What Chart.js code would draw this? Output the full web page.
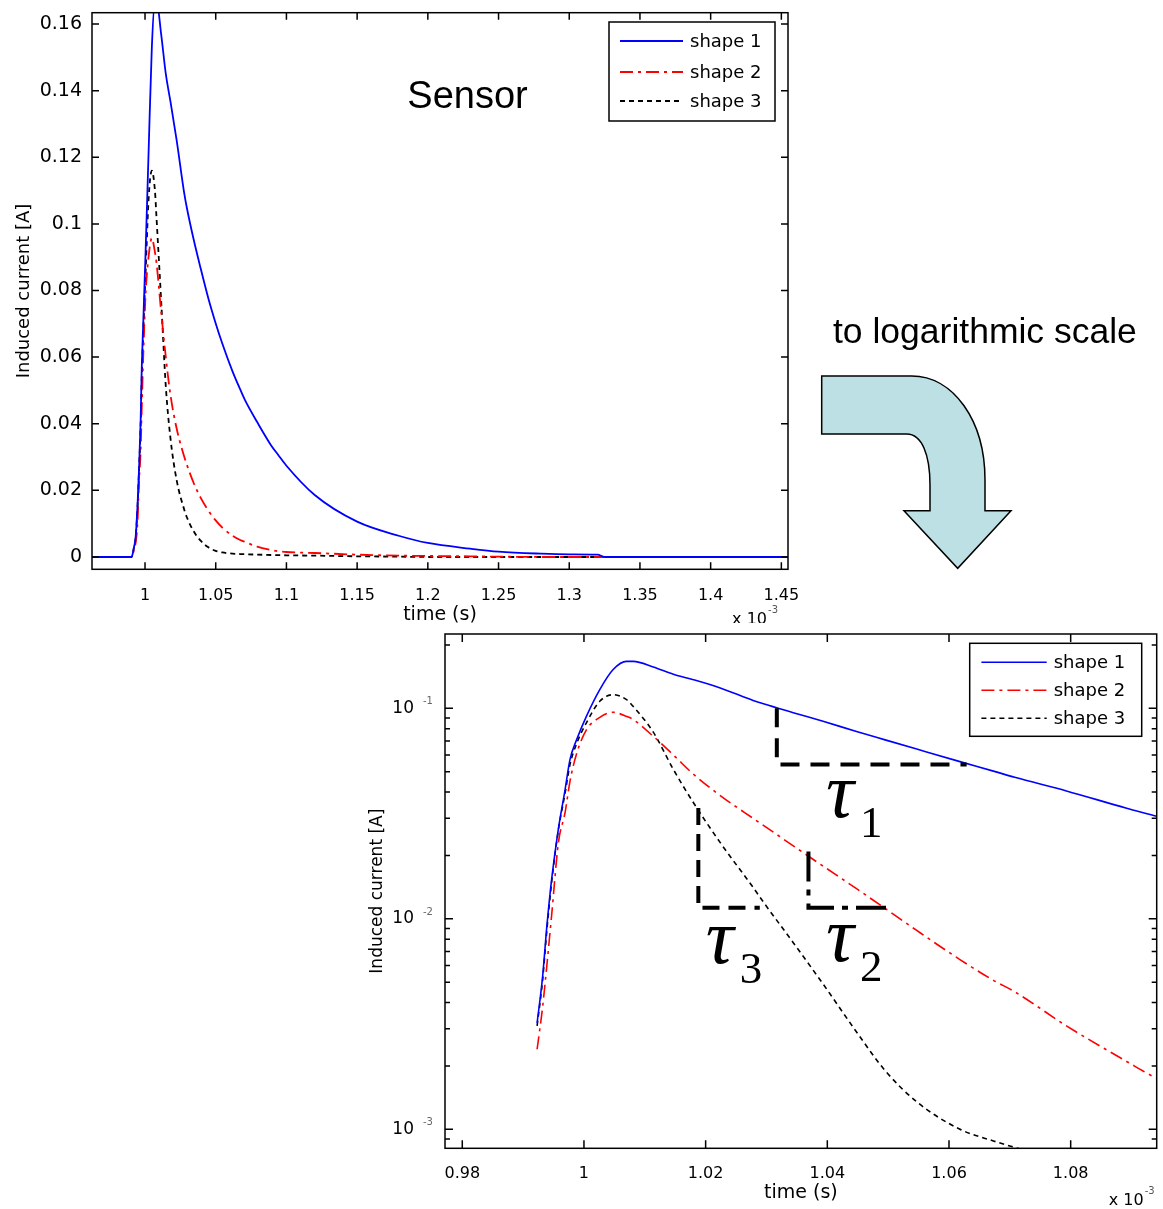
<!DOCTYPE html>
<html>
<head>
<meta charset="utf-8">
<script src="https://cdn.jsdelivr.net/npm/chart.js@4.4.0/dist/chart.umd.min.js"></script>
<style>
  html, body { margin: 0; padding: 0; background: #fff; }
  body { width: 1163px; height: 1209px; position: relative; overflow: hidden; }
  canvas { display: block; }
  #topWrap { position: absolute; left: 0; top: 0; width: 800px; height: 623px; overflow: hidden; }
  #botWrap { position: absolute; left: 360px; top: 630px; width: 803px; height: 579px; }
  #deco { position: absolute; left: 0; top: 0; pointer-events: none; }
</style>
</head>
<body>
<div id="topWrap"><canvas id="c1" width="800" height="640"></canvas></div>
<div id="botWrap"><canvas id="c2" width="803" height="579"></canvas></div>
<svg id="deco" width="1163" height="1209" xmlns="http://www.w3.org/2000/svg">
  <text x="833" y="343" font-family="Liberation Sans, Arial, sans-serif" font-size="35.5" fill="#000">to logarithmic scale</text>
  <path d="M 821.7 376 L 911.7 376 C 953 376 985 420 985 480 L 985 510.7 L 1011 510.7 L 957.7 568.3 L 904 510.7 L 930 510.7 L 930 485 C 930 455 922 434 906.7 434 L 821.7 434 Z"
        fill="#bde0e4" stroke="#000" stroke-width="1.5" stroke-linejoin="miter"/>
</svg>
<script>
// ---------- data (time in units of 1e-3 s) ----------
const time = [0.9625, 0.9800, 0.9905, 0.9923, 0.9932, 0.9939, 0.9947, 0.9958, 0.9969, 0.9977,
              0.9988, 1.0004, 1.0026, 1.0048, 1.0070, 1.0081, 1.0114, 1.0147, 1.0180, 1.0224,
              1.0278, 1.0295, 1.0344, 1.0393, 1.0448, 1.0495, 1.0547, 1.0618, 1.0673, 1.0708,
              1.0793, 1.0892, 1.0941, 1.1000, 1.1200, 1.1500, 1.1800, 1.2000, 1.2300, 1.2500,
              1.2800, 1.3000, 1.3200, 1.3250, 1.3500, 1.4000, 1.4547];
const shape1 = [0, 0, 0, 0.0032, 0.0053, 0.0092, 0.0155, 0.0268, 0.0411, 0.0570,
                0.0710, 0.0916, 0.1227, 0.1528, 0.1670, 0.1670, 0.1570, 0.1450, 0.1367, 0.1250,
                0.1090, 0.1050, 0.0953, 0.0867, 0.0776, 0.0708, 0.0640, 0.0558, 0.0503, 0.0470,
                0.0405, 0.0335, 0.0307, 0.0274, 0.0186, 0.0106, 0.0063, 0.0042, 0.0025, 0.0016,
                0.0010, 0.0008, 0.0007, 0, 0, 0, 0];
const shape2 = [0, 0, 0, 0.0024, 0.0038, 0.0060, 0.0105, 0.0230, 0.0320, 0.0450,
                0.0610, 0.0790, 0.0905, 0.0957, 0.0915, 0.0884, 0.0736, 0.0600, 0.0486, 0.0385,
                0.0300, 0.0278, 0.0222, 0.0178, 0.0139, 0.0112, 0.0088, 0.0064, 0.0051, 0.0045,
                0.0031, 0.0021, 0.00175, 0.0015, 0.0012, 0.0007, 0.0004, 0.0003, 0.0002, 0.0001,
                0, 0, 0, 0, 0, 0, 0];
const shape3 = [0, 0, 0, 0.0031, 0.0051, 0.0088, 0.0150, 0.0265, 0.0395, 0.0540,
                0.0680, 0.0853, 0.1080, 0.1160, 0.1100, 0.1020, 0.0770, 0.0512, 0.0356, 0.0230,
                0.0141, 0.0120, 0.0077, 0.0049, 0.0029, 0.0019, 0.00135, 0.0010, 0.00088, 0.00082,
                0.0007, 0.0006, 0.00055, 0.0005, 0.0004, 0.0002, 0.0001, 0, 0, 0,
                0, 0, 0, 0, 0, 0, 0];
const seriesNames = ['shape 1', 'shape 2', 'shape 3'];

// tick values and labels
const xTicksTop = [1, 1.05, 1.1, 1.15, 1.2, 1.25, 1.3, 1.35, 1.4, 1.45];
const xTickLabelsTop = ['1', '1.05', '1.1', '1.15', '1.2', '1.25', '1.3', '1.35', '1.4', '1.45'];
const yTicksTop = [0, 0.02, 0.04, 0.06, 0.08, 0.1, 0.12, 0.14, 0.16];
const yTickLabelsTop = ['0', '0.02', '0.04', '0.06', '0.08', '0.1', '0.12', '0.14', '0.16'];
const xTicksBot = [0.98, 1, 1.02, 1.04, 1.06, 1.08];
const xTickLabelsBot = ['0.98', '1', '1.02', '1.04', '1.06', '1.08'];
const yTicksBot = [0.001, 0.01, 0.1];
const yTickLabelsBot = ['10', '10', '10'];
const yTickExpBot = ['-3', '-2', '-1'];
const axisMultiplier = ['x 10', '-3'];

// annotations (data coordinates of the log chart)
const tauPaths = [
  { pts: [[1.0317, 0.1], [1.0317, 0.054], [1.0629, 0.054]], dash: [19, 11] },
  { pts: [[1.0369, 0.0209], [1.0369, 0.01127], [1.0498, 0.01127]], dash: [30, 8, 6, 8] },
  { pts: [[1.0188, 0.0336], [1.0188, 0.01127], [1.0289, 0.01127]], dash: [17, 9] }
];
const tauLabels = [
  { t: 1.0398, v: 0.0303, main: '\u03C4', sub: '1' },
  { t: 1.0398, v: 0.00628, main: '\u03C4', sub: '2' },
  { t: 1.0200, v: 0.00619, main: '\u03C4', sub: '3' }
];
const sensorNote = { t: 1.1855, v: 0.1347, text: 'Sensor' };

// ---------- helpers ----------
const styles = [
  { color: '#0000ff', dash: [] },
  { color: '#ff0000', dash: [13, 5, 3, 5] },
  { color: '#000000', dash: [5, 4] }
];
function makeSets(width) {
  return [shape1, shape2, shape3].map((s, k) => ({
    label: seriesNames[k],
    data: time.map((t, i) => ({ x: t, y: s[i] })),
    borderColor: styles[k].color,
    borderDash: styles[k].dash,
    borderWidth: width,
    pointRadius: 0,
    cubicInterpolationMode: 'monotone',
    fill: false
  }));
}

const boxTicks = {
  id: 'boxTicks',
  afterDraw(chart, args, o) {
    const { ctx, chartArea: a } = chart;
    const xs = chart.scales.x, ys = chart.scales.y;
    ctx.save();
    ctx.strokeStyle = '#000';
    ctx.lineWidth = 1.5;
    ctx.setLineDash([]);
    ctx.strokeRect(a.left, a.top, a.right - a.left, a.bottom - a.top);
    ctx.beginPath();
    const L = o.len;
    xs.ticks.forEach(t => {
      const p = xs.getPixelForValue(t.value);
      ctx.moveTo(p, a.bottom); ctx.lineTo(p, a.bottom - L);
      ctx.moveTo(p, a.top); ctx.lineTo(p, a.top + L);
    });
    ys.ticks.forEach(t => {
      const p = ys.getPixelForValue(t.value);
      ctx.moveTo(a.left, p); ctx.lineTo(a.left + L, p);
      ctx.moveTo(a.right, p); ctx.lineTo(a.right - L, p);
    });
    if (o.minorLog) {
      for (let e = -4; e <= 0; e++) {
        for (let k = 2; k <= 9; k++) {
          const v = k * Math.pow(10, e);
          if (v < ys.min || v > ys.max) continue;
          const p = ys.getPixelForValue(v);
          ctx.moveTo(a.left, p); ctx.lineTo(a.left + o.minorLen, p);
          ctx.moveTo(a.right, p); ctx.lineTo(a.right - o.minorLen, p);
        }
      }
    }
    ctx.stroke();
    // exponents of log tick labels
    if (o.exps) {
      ctx.fillStyle = '#666';
      ctx.font = '10px "DejaVu Sans"';
      ctx.textAlign = 'left';
      ctx.textBaseline = 'alphabetic';
      ys.ticks.forEach((t, i) => {
        const p = ys.getPixelForValue(t.value);
        ctx.fillText(o.exps[i], a.left - o.expGap, p - 4);
      });
    }
    ctx.restore();
  }
};

const legendBox = {
  id: 'legendBox',
  afterDatasetsDraw(chart, args, o) {
    const { ctx, chartArea: a } = chart;
    const left = a.right - o.inset - o.width, top = a.top + o.top;
    ctx.save();
    ctx.fillStyle = '#fff';
    ctx.fillRect(left, top, o.width, o.height);
    ctx.strokeStyle = '#000';
    ctx.lineWidth = 1.5;
    ctx.setLineDash([]);
    ctx.strokeRect(left, top, o.width, o.height);
    chart.data.datasets.forEach((ds, i) => {
      const y = top + o.rows[i];
      ctx.beginPath();
      ctx.strokeStyle = ds.borderColor;
      ctx.lineWidth = ds.borderWidth;
      ctx.setLineDash(ds.borderDash || []);
      ctx.moveTo(left + o.lineFrom, y);
      ctx.lineTo(left + o.lineTo, y);
      ctx.stroke();
      ctx.setLineDash([]);
      ctx.fillStyle = '#000';
      ctx.font = o.font;
      ctx.textAlign = 'left';
      ctx.textBaseline = 'middle';
      ctx.fillText(ds.label, left + o.textX, y + 1);
    });
    ctx.restore();
  }
};

const notes = {
  id: 'notes',
  afterDatasetsDraw(chart, args, o) {
    const { ctx, chartArea: a } = chart;
    const xs = chart.scales.x, ys = chart.scales.y;
    ctx.save();
    ctx.fillStyle = '#000';
    ctx.textAlign = 'left';
    ctx.textBaseline = 'alphabetic';
    // x multiplier
    ctx.font = '16px "DejaVu Sans"';
    const w1 = ctx.measureText(axisMultiplier[0]).width;
    ctx.font = '10px "DejaVu Sans"';
    const w2 = ctx.measureText(axisMultiplier[1]).width;
    const x0 = a.right - o.expoRight - w1 - w2 - 1;
    const y0 = a.bottom + o.expoDy;
    ctx.font = '16px "DejaVu Sans"';
    ctx.fillText(axisMultiplier[0], x0, y0);
    ctx.fillStyle = '#555';
    ctx.font = '10px "DejaVu Sans"';
    ctx.fillText(axisMultiplier[1], x0 + w1 + 1, y0 - 11);
    ctx.fillStyle = '#000';
    if (o.sensor) {
      ctx.font = '38px "Liberation Sans"';
      ctx.fillText(o.sensor.text, xs.getPixelForValue(o.sensor.t), ys.getPixelForValue(o.sensor.v));
    }
    (o.paths || []).forEach(p => {
      ctx.beginPath();
      ctx.strokeStyle = '#000';
      ctx.lineWidth = 4;
      ctx.setLineDash(p.dash);
      p.pts.forEach(([t, v], i) => {
        const X = xs.getPixelForValue(t), Y = ys.getPixelForValue(v);
        if (i) ctx.lineTo(X, Y); else ctx.moveTo(X, Y);
      });
      ctx.stroke();
    });
    ctx.setLineDash([]);
    (o.labels || []).forEach(l => {
      const X = xs.getPixelForValue(l.t), Y = ys.getPixelForValue(l.v);
      ctx.font = 'italic 78px "Liberation Serif"';
      ctx.fillText(l.main, X, Y);
      ctx.font = '45px "Liberation Serif"';
      ctx.fillText(l.sub, X + 34, Y + 20);
    });
    ctx.restore();
  }
};

function setTicks(values) {
  return s => { s.ticks = values.map(v => ({ value: v })); };
}

// ---------- top chart (linear) ----------
new Chart(document.getElementById('c1'), {
  type: 'line',
  data: { datasets: makeSets(1.8) },
  options: {
    responsive: false, animation: false, devicePixelRatio: 1,
    layout: { padding: { top: 12.7, right: 12, left: 0, bottom: 0 } },
    plugins: {
      legend: { display: false }, tooltip: { enabled: false },
      boxTicks: { len: 7 },
      legendBox: { inset: 13, top: 9.3, width: 166, height: 99, rows: [19, 50, 79],
                   lineFrom: 11, lineTo: 74, textX: 81, font: '18px "DejaVu Sans"' },
      notes: { expoRight: 10, expoDy: 55, sensor: sensorNote }
    },
    scales: {
      x: {
        type: 'linear', min: 0.9625, max: 1.4547,
        afterBuildTicks: setTicks(xTicksTop),
        afterFit: s => { s.height = 70.7; s.paddingLeft = 0; s.paddingRight = 0; },
        grid: { display: false }, border: { display: false },
        ticks: { padding: 8.6, color: '#000', font: { family: 'DejaVu Sans', size: 16 },
                 maxRotation: 0, autoSkip: false, callback: (v, i) => xTickLabelsTop[i] },
        title: { display: true, text: 'time (s)', color: '#000',
                 font: { family: 'DejaVu Sans', size: 19 }, padding: { top: 0, bottom: 13.6 } }
      },
      y: {
        type: 'linear', min: -0.0037, max: 0.1634,
        afterBuildTicks: setTicks(yTicksTop),
        afterFit: s => { s.width = 92; s.paddingTop = 0; s.paddingBottom = 0; },
        grid: { display: false }, border: { display: false },
        ticks: { padding: 2, color: '#000', font: { family: 'DejaVu Sans', size: 19 },
                 autoSkip: false, callback: (v, i) => yTickLabelsTop[i] },
        title: { display: true, text: 'Induced current [A]', color: '#000',
                 font: { family: 'DejaVu Sans', size: 18 }, padding: { top: 14, bottom: 0 } }
      }
    }
  },
  plugins: [notes, legendBox, boxTicks]
});

// ---------- bottom chart (log) ----------
new Chart(document.getElementById('c2'), {
  type: 'line',
  data: { datasets: makeSets(1.6) },
  options: {
    responsive: false, animation: false, devicePixelRatio: 1,
    layout: { padding: { top: 4, right: 6.3, left: 0, bottom: 0 } },
    plugins: {
      legend: { display: false }, tooltip: { enabled: false },
      boxTicks: { len: 8, minorLog: true, minorLen: 5, exps: yTickExpBot, expGap: 22 },
      legendBox: { inset: 15, top: 9.3, width: 172, height: 93, rows: [19, 47, 75],
                   lineFrom: 11.7, lineTo: 77, textX: 84, font: '18px "DejaVu Sans"' },
      notes: { expoRight: 2, expoDy: 56.7, paths: tauPaths, labels: tauLabels }
    },
    scales: {
      x: {
        type: 'linear', min: 0.97716, max: 1.09414,
        afterBuildTicks: setTicks(xTicksBot),
        afterFit: s => { s.height = 60.7; s.paddingLeft = 0; s.paddingRight = 0; },
        grid: { display: false }, border: { display: false },
        ticks: { padding: 8.1, color: '#000', font: { family: 'DejaVu Sans', size: 16 },
                 maxRotation: 0, autoSkip: false, callback: (v, i) => xTickLabelsBot[i] },
        title: { display: true, text: 'time (s)', color: '#000',
                 font: { family: 'DejaVu Sans', size: 19 }, padding: { top: 0, bottom: 4.3 } }
      },
      y: {
        type: 'logarithmic', min: 0.000812, max: 0.2254,
        afterBuildTicks: setTicks(yTicksBot),
        afterFit: s => { s.width = 85; s.paddingTop = 0; s.paddingBottom = 0; },
        grid: { display: false }, border: { display: false },
        ticks: { padding: 23, color: '#000', font: { family: 'DejaVu Sans', size: 17 },
                 autoSkip: false, callback: (v, i) => yTickLabelsBot[i] },
        title: { display: true, text: 'Induced current [A]', color: '#000',
                 font: { family: 'DejaVu Sans', size: 17 }, padding: { top: 7.8, bottom: 0 } }
      }
    }
  },
  plugins: [notes, legendBox, boxTicks]
});
</script>
</body>
</html>
